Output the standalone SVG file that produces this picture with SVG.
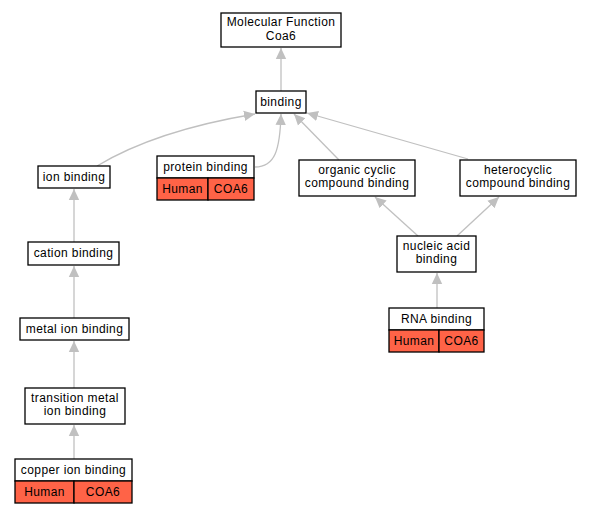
<svg xmlns="http://www.w3.org/2000/svg" width="591" height="515" viewBox="0 0 591 515">
<style>
.b{fill:#fff;stroke:#000;stroke-width:1.3}
.r{fill:#ff6347;stroke:#000;stroke-width:1.3}
.t{font-family:"Liberation Sans",Arial,sans-serif;font-size:12px;letter-spacing:0.4px;fill:#000;text-anchor:middle}
.e{fill:none;stroke:#c0c0c0;stroke-width:1.3;marker-end:url(#a)}
</style>
<defs>
<marker id="a" markerUnits="userSpaceOnUse" markerWidth="12" markerHeight="12" viewBox="0 0 12 12" refX="11" refY="6" orient="auto">
<path d="M0,0.8 L11,6 L0,11.2 z" fill="#c0c0c0"/>
</marker>
</defs>
<rect width="591" height="515" fill="#fff"/>
<g id="edges">
<path class="e" d="M281,91 L281,48"/>
<path class="e" d="M97,166 C140,140 195,124 255,114"/>
<path class="e" d="M255,167 C275,167 280,150 281,114"/>
<path class="e" d="M339,160 L294,114"/>
<path class="e" d="M468,159 L307,113"/>
<path class="e" d="M418,236 L375,197"/>
<path class="e" d="M457,236 L499,197"/>
<path class="e" d="M437,308 L437,273"/>
<path class="e" d="M74,242 L74,189"/>
<path class="e" d="M74,318 L74,266"/>
<path class="e" d="M74,388 L74,341"/>
<path class="e" d="M74,459 L74,425"/>
</g>
<g id="mf">
<rect class="b" x="221" y="13" width="120" height="34"/>
<text class="t" x="281" y="26">Molecular Function</text>
<text class="t" x="281" y="39.5">Coa6</text>
</g>
<g id="binding">
<rect class="b" x="256" y="91" width="50" height="22"/>
<text class="t" x="281" y="106">binding</text>
</g>
<g id="ion">
<rect class="b" x="38" y="166" width="72" height="22"/>
<text class="t" x="74" y="181">ion binding</text>
</g>
<g id="protein">
<rect class="b" x="157" y="156" width="97" height="22"/>
<text class="t" x="205.5" y="171">protein binding</text>
<rect class="r" x="157" y="178" width="51" height="22"/>
<rect class="r" x="208" y="178" width="46" height="22"/>
<text class="t" x="182.5" y="193">Human</text>
<text class="t" x="231" y="193">COA6</text>
</g>
<g id="organic">
<rect class="b" x="299" y="160" width="116" height="36"/>
<text class="t" x="357" y="174">organic cyclic</text>
<text class="t" x="357" y="187">compound binding</text>
</g>
<g id="hetero">
<rect class="b" x="460" y="160" width="116" height="36"/>
<text class="t" x="518" y="174">heterocyclic</text>
<text class="t" x="518" y="187">compound binding</text>
</g>
<g id="nucleic">
<rect class="b" x="397" y="236" width="79" height="36"/>
<text class="t" x="436.5" y="250">nucleic acid</text>
<text class="t" x="436.5" y="263">binding</text>
</g>
<g id="rna">
<rect class="b" x="389" y="308" width="95" height="22"/>
<text class="t" x="436.5" y="323">RNA binding</text>
<rect class="r" x="389" y="330" width="50" height="22"/>
<rect class="r" x="439" y="330" width="45" height="22"/>
<text class="t" x="414" y="345">Human</text>
<text class="t" x="461.5" y="345">COA6</text>
</g>
<g id="cation">
<rect class="b" x="28" y="242" width="91" height="23"/>
<text class="t" x="73.5" y="257">cation binding</text>
</g>
<g id="metal">
<rect class="b" x="20" y="318" width="109" height="22"/>
<text class="t" x="74.5" y="333">metal ion binding</text>
</g>
<g id="transition">
<rect class="b" x="25" y="388" width="100" height="36"/>
<text class="t" x="75" y="402">transition metal</text>
<text class="t" x="75" y="415">ion binding</text>
</g>
<g id="copper">
<rect class="b" x="15" y="459" width="117" height="22"/>
<text class="t" x="73.5" y="474">copper ion binding</text>
<rect class="r" x="15" y="481" width="59" height="22"/>
<rect class="r" x="74" y="481" width="58" height="22"/>
<text class="t" x="44.5" y="496">Human</text>
<text class="t" x="103" y="496">COA6</text>
</g>
</svg>
